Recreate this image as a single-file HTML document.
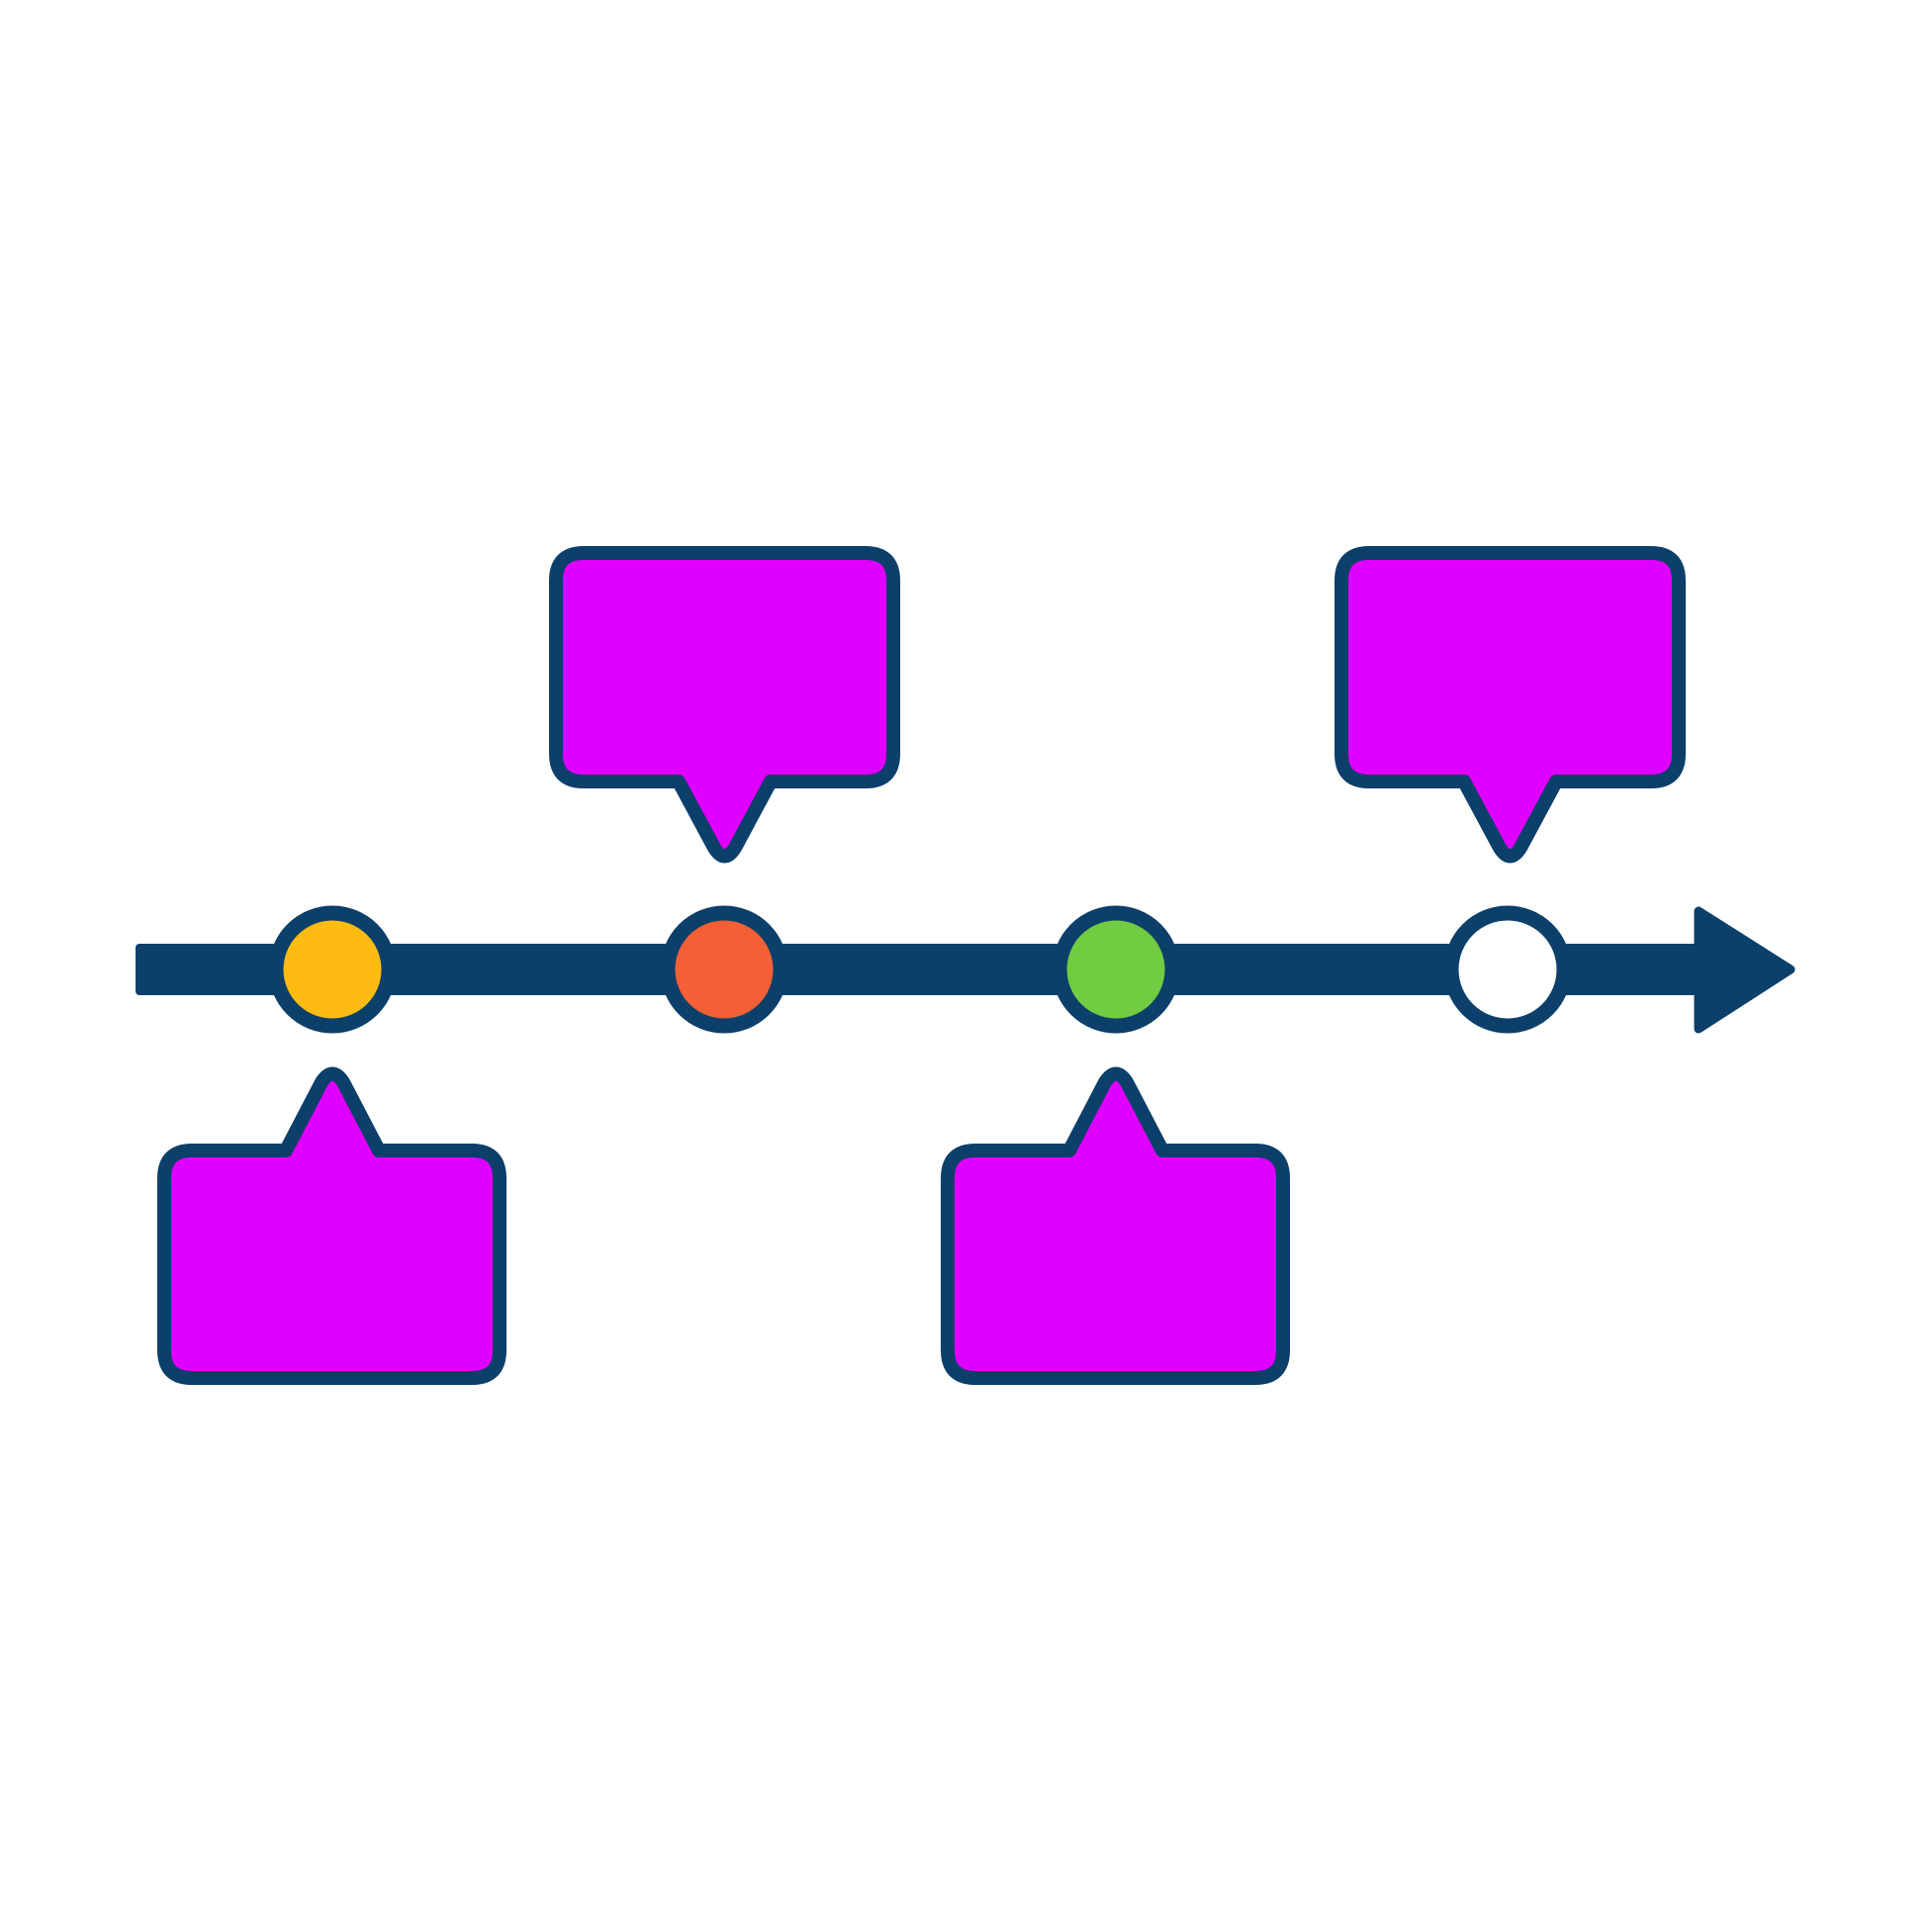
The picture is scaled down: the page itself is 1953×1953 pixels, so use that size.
<!DOCTYPE html>
<html><head><meta charset="utf-8"><style>html,body{margin:0;padding:0;background:#fff}svg{display:block}</style></head>
<body>
<svg width="1953" height="1953" viewBox="0 0 1953 1953" xmlns="http://www.w3.org/2000/svg">
<rect width="1953" height="1953" fill="#fff"/>
<g fill="#0c3f69" stroke="#0c3f69" stroke-linejoin="round">
<rect x="137" y="954" width="1582" height="52" rx="4" stroke="none"/>
<polygon points="1717,921 1810,980 1717,1040" stroke-width="9"/>
</g>
<g stroke="#0c3f69" stroke-width="15">
<circle cx="336" cy="980" r="57" fill="#febb11"/>
<circle cx="732" cy="980" r="57" fill="#f46036"/>
<circle cx="1128" cy="980" r="57" fill="#71cc41"/>
<circle cx="1524" cy="980" r="57" fill="#ffffff"/>
</g>
<g fill="#df00ff" stroke="#0c3f69" stroke-width="14" stroke-linejoin="round">
<path d="M590,559 H875 Q903,559 903,587 V762 Q903,790 875,790 H779 L743,857 Q732.5,874 722,857 L686,790 H590 Q562,790 562,762 V587 Q562,559 590,559 Z"/>
<path d="M1384,559 H1669 Q1697,559 1697,587 V762 Q1697,790 1669,790 H1573 L1537,857 Q1526.5,874 1516,857 L1480,790 H1384 Q1356,790 1356,762 V587 Q1356,559 1384,559 Z"/>
<path d="M194,1393 H477 Q505,1393 505,1365 V1191 Q505,1163 477,1163 H383 L347,1094 Q336,1077 325,1094 L289,1163 H194 Q166,1163 166,1191 V1365 Q166,1393 194,1393 Z"/>
<path d="M986,1393 H1269 Q1297,1393 1297,1365 V1191 Q1297,1163 1269,1163 H1175 L1139,1094 Q1128,1077 1117,1094 L1081,1163 H986 Q958,1163 958,1191 V1365 Q958,1393 986,1393 Z"/>
</g>
</svg>
</body></html>
